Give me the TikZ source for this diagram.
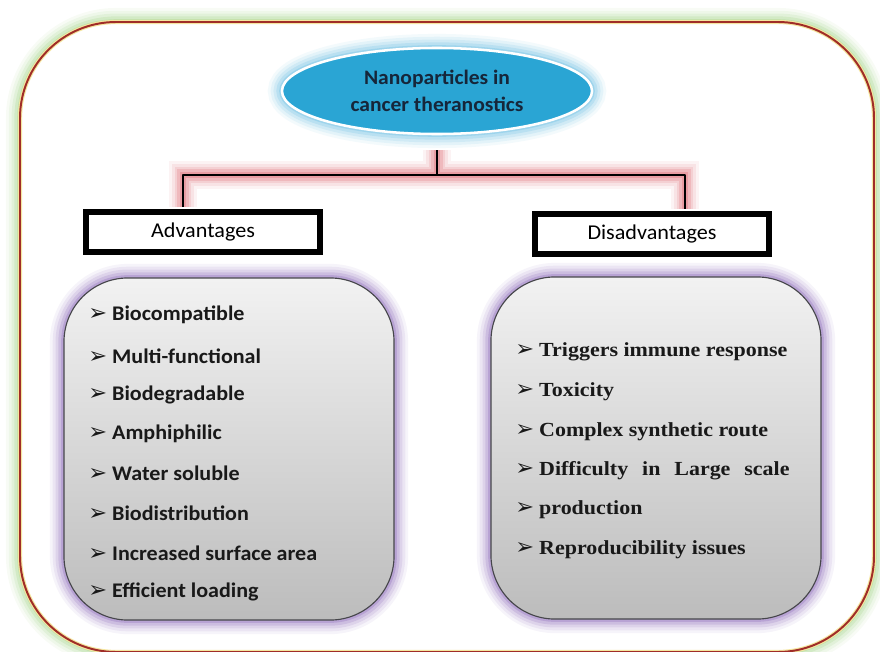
\documentclass[tikz,border=0pt]{standalone}
\usepackage{fontspec}
\setmainfont{Carlito}
\newfontfamily\listsans{Carlito}[FakeStretch=1.06]
\newfontfamily\titlesans{Carlito}[FakeStretch=1.05]
\newfontfamily\headsans{Carlito}[FakeStretch=1.05]
\newfontfamily\listserif{Liberation Serif}[FakeStretch=1.1]
\newfontfamily\arrowfont{DejaVu Sans}
\usetikzlibrary{shapes.geometric}

% colours
\definecolor{framered}{RGB}{160,45,40}
\definecolor{framegreen}{RGB}{150,205,120}
\definecolor{frameyellow}{RGB}{245,230,160}
\definecolor{ellipseblue}{RGB}{42,165,212}
\definecolor{glowblue}{RGB}{95,185,225}
\definecolor{ellipsetext}{RGB}{22,38,58}
\definecolor{bracketglow}{RGB}{222,95,105}
\definecolor{purpleglow}{RGB}{140,105,185}
\definecolor{boxtop}{RGB}{242,242,242}
\definecolor{boxbottom}{RGB}{188,188,188}
\definecolor{boxline}{RGB}{70,70,75}
\definecolor{itemtext}{RGB}{25,25,25}

% arrow bullet in front of every item
\newcommand{\arrowmark}{\makebox[17pt][l]{\arrowfont\fontsize{16}{16}\selectfont ➢}}

\tikzset{
  glow/.style={
    preaction={draw=#1, opacity=.07, line width=20pt},
    preaction={draw=#1, opacity=.10, line width=16pt},
    preaction={draw=#1, opacity=.14, line width=12pt},
    preaction={draw=#1, opacity=.20, line width=8pt},
    preaction={draw=#1, opacity=.30, line width=4pt}},
  headbox/.style={draw=black, line width=4pt, fill=white, minimum width=5.85cm,
    minimum height=1.0cm, inner sep=0pt, font=\headsans\fontsize{15}{16}\selectfont},
  listbox/.style={draw=boxline, line width=0.8pt, rounded corners=1.6cm,
    top color=boxtop, bottom color=boxbottom, glow=purpleglow,
    minimum width=8.25cm, minimum height=8.55cm},
  advitem/.style={anchor=west, inner sep=0pt, text=itemtext,
    font=\listsans\fontsize{14.8}{16}\selectfont\bfseries},
  disitem/.style={anchor=west, inner sep=0pt, text=itemtext,
    font=\listserif\fontsize{14.2}{16}\selectfont\bfseries}
}

\begin{document}
\begin{tikzpicture}[x=0.025cm, y=-0.025cm]
  \useasboundingbox (0,0) rectangle (880,651);

  % Outer frame with green halo
  \draw [line width=3pt, frameyellow, fill=white, rounded corners=2.4cm,
         glow=framegreen] (20,22) rectangle (874,652);
  \draw [line width=1.4pt, framered, rounded corners=2.4cm] (20,22) rectangle (874,652);

  % Title ellipse
  \node (root) [ellipse, fill=ellipseblue, draw=white, line width=1.8pt,
    glow=glowblue, minimum width=7.75cm, minimum height=2.15cm, inner sep=0pt,
    text=ellipsetext, align=center, font=\titlesans\fontsize{14.6}{19}\selectfont\bfseries]
    at (437,91) {Nanoparticles in\\cancer theranostics};

  % Heading boxes
  \node (adv) [headbox] at (203,232) {Advantages};
  \node (dis) [headbox] at (652,234) {Disadvantages};

  % Bracket from the title down to both headings
  \coordinate (stem) at (437,150);
  \coordinate (fork) at (437,175);
  \coordinate (advleg) at (183,207);
  \coordinate (disleg) at (685,209);
  \draw [line width=1.6pt, line join=round, glow=bracketglow]
    (advleg) |- (fork) -- (stem) (fork) -| (disleg);

  % Rounded list boxes
  \node (advlist) [listbox] at (229,449) {};
  \node (dislist) [listbox] at (656,448) {};

  % Advantages
  \node (a1) [advitem] at (88,315) {\arrowmark Biocompatible};
  \node (a2) [advitem] at (88,356) {\arrowmark Multi-functional};
  \node (a3) [advitem] at (88,395) {\arrowmark Biodegradable};
  \node (a4) [advitem] at (88,434) {\arrowmark Amphiphilic};
  \node (a5) [advitem] at (88,473) {\arrowmark Water soluble};
  \node (a6) [advitem] at (88,513) {\arrowmark Biodistribution};
  \node (a7) [advitem] at (88,553) {\arrowmark Increased surface area};
  \node (a8) [advitem] at (88,592) {\arrowmark Efficient loading};

  % Disadvantages
  \node (d1) [disitem] at (515,352) {\arrowmark Triggers immune response};
  \node (d2) [disitem] at (515,392) {\arrowmark Toxicity};
  \node (d3) [disitem] at (515,432) {\arrowmark Complex synthetic route};
  \node (d4) [disitem] at (515,471) {\arrowmark\hbox to 178pt{Difficulty\hfill in\hfill Large\hfill scale}};
  \node (d5) [disitem] at (515,510) {\arrowmark production};
  \node (d6) [disitem] at (515,550) {\arrowmark Reproducibility issues};
\end{tikzpicture}
\end{document}
